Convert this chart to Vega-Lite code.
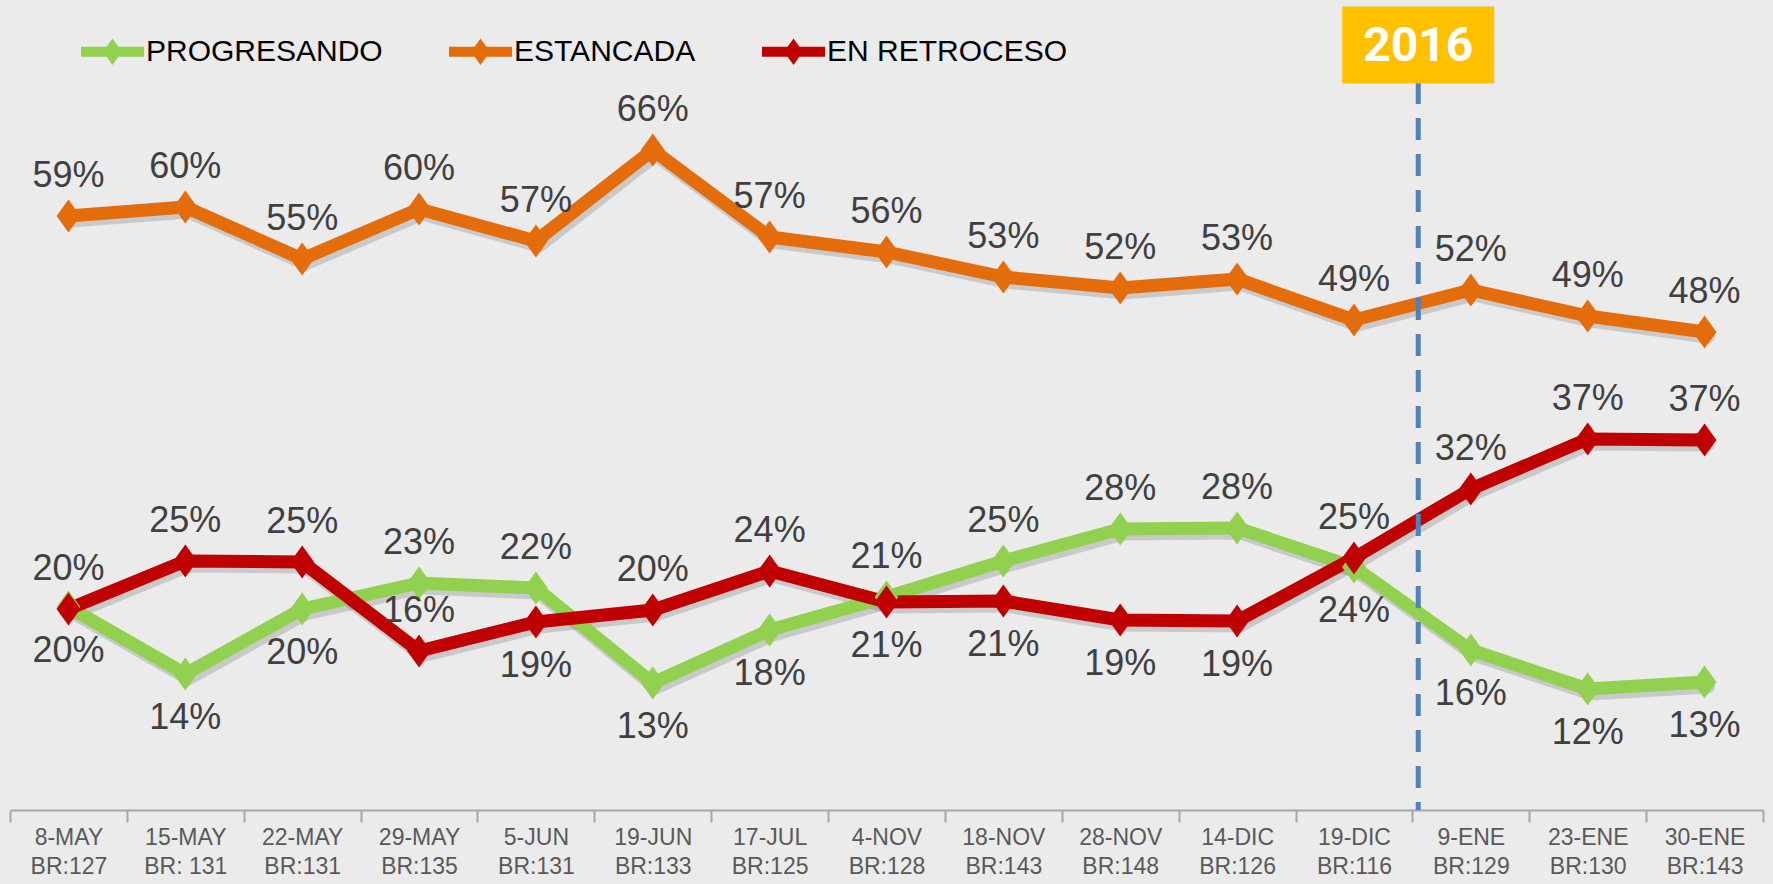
{
  "$schema": "https://vega.github.io/schema/vega-lite/v6.json",
  "width": 1753,
  "height": 810,
  "autosize": {"type": "none"},
  "padding": {"left": 10, "top": 0, "right": 10, "bottom": 74},
  "background": "#ebebeb",
  "config": {
    "view": {"stroke": null},
    "font": "Liberation Sans",
    "legend": {
      "title": null,
      "orient": "none",
      "legendX": 71,
      "legendY": 20,
      "direction": "horizontal",
      "symbolType": "M-1,-0.16H1V0.16H-1Z M0,-0.42L0.3,0L0,0.42L-0.3,0Z",
      "symbolSize": 3969,
      "symbolStrokeWidth": 0,
      "symbolOpacity": 1,
      "labelFont": "Liberation Sans",
      "labelFontSize": 30,
      "labelColor": "#000000",
      "labelOffset": 2,
      "columnPadding": 66,
      "padding": 0,
      "labelLimit": 400
    }
  },
  "data": {
    "values": [
      {"periodo": "8-MAY|BR:127", "serie": "PROGRESANDO", "valor": 0.203},
      {"periodo": "15-MAY|BR: 131", "serie": "PROGRESANDO", "valor": 0.136},
      {"periodo": "22-MAY|BR:131", "serie": "PROGRESANDO", "valor": 0.201},
      {"periodo": "29-MAY|BR:135", "serie": "PROGRESANDO", "valor": 0.227},
      {"periodo": "5-JUN|BR:131", "serie": "PROGRESANDO", "valor": 0.222},
      {"periodo": "19-JUN|BR:133", "serie": "PROGRESANDO", "valor": 0.127},
      {"periodo": "17-JUL|BR:125", "serie": "PROGRESANDO", "valor": 0.180},
      {"periodo": "4-NOV|BR:128", "serie": "PROGRESANDO", "valor": 0.213},
      {"periodo": "18-NOV|BR:143", "serie": "PROGRESANDO", "valor": 0.249},
      {"periodo": "28-NOV|BR:148", "serie": "PROGRESANDO", "valor": 0.281},
      {"periodo": "14-DIC|BR:126", "serie": "PROGRESANDO", "valor": 0.282},
      {"periodo": "19-DIC|BR:116", "serie": "PROGRESANDO", "valor": 0.243},
      {"periodo": "9-ENE|BR:129", "serie": "PROGRESANDO", "valor": 0.160},
      {"periodo": "23-ENE|BR:130", "serie": "PROGRESANDO", "valor": 0.121},
      {"periodo": "30-ENE|BR:143", "serie": "PROGRESANDO", "valor": 0.128},
      {"periodo": "8-MAY|BR:127", "serie": "ESTANCADA", "valor": 0.594},
      {"periodo": "15-MAY|BR: 131", "serie": "ESTANCADA", "valor": 0.603},
      {"periodo": "22-MAY|BR:131", "serie": "ESTANCADA", "valor": 0.551},
      {"periodo": "29-MAY|BR:135", "serie": "ESTANCADA", "valor": 0.601},
      {"periodo": "5-JUN|BR:131", "serie": "ESTANCADA", "valor": 0.569},
      {"periodo": "19-JUN|BR:133", "serie": "ESTANCADA", "valor": 0.660},
      {"periodo": "17-JUL|BR:125", "serie": "ESTANCADA", "valor": 0.573},
      {"periodo": "4-NOV|BR:128", "serie": "ESTANCADA", "valor": 0.558},
      {"periodo": "18-NOV|BR:143", "serie": "ESTANCADA", "valor": 0.533},
      {"periodo": "28-NOV|BR:148", "serie": "ESTANCADA", "valor": 0.522},
      {"periodo": "14-DIC|BR:126", "serie": "ESTANCADA", "valor": 0.531},
      {"periodo": "19-DIC|BR:116", "serie": "ESTANCADA", "valor": 0.490},
      {"periodo": "9-ENE|BR:129", "serie": "ESTANCADA", "valor": 0.520},
      {"periodo": "23-ENE|BR:130", "serie": "ESTANCADA", "valor": 0.494},
      {"periodo": "30-ENE|BR:143", "serie": "ESTANCADA", "valor": 0.478},
      {"periodo": "8-MAY|BR:127", "serie": "EN RETROCESO", "valor": 0.201},
      {"periodo": "15-MAY|BR: 131", "serie": "EN RETROCESO", "valor": 0.249},
      {"periodo": "22-MAY|BR:131", "serie": "EN RETROCESO", "valor": 0.248},
      {"periodo": "29-MAY|BR:135", "serie": "EN RETROCESO", "valor": 0.159},
      {"periodo": "5-JUN|BR:131", "serie": "EN RETROCESO", "valor": 0.188},
      {"periodo": "19-JUN|BR:133", "serie": "EN RETROCESO", "valor": 0.200},
      {"periodo": "17-JUL|BR:125", "serie": "EN RETROCESO", "valor": 0.239},
      {"periodo": "4-NOV|BR:128", "serie": "EN RETROCESO", "valor": 0.208},
      {"periodo": "18-NOV|BR:143", "serie": "EN RETROCESO", "valor": 0.209},
      {"periodo": "28-NOV|BR:148", "serie": "EN RETROCESO", "valor": 0.190},
      {"periodo": "14-DIC|BR:126", "serie": "EN RETROCESO", "valor": 0.189},
      {"periodo": "19-DIC|BR:116", "serie": "EN RETROCESO", "valor": 0.252},
      {"periodo": "9-ENE|BR:129", "serie": "EN RETROCESO", "valor": 0.321},
      {"periodo": "23-ENE|BR:130", "serie": "EN RETROCESO", "valor": 0.371},
      {"periodo": "30-ENE|BR:143", "serie": "EN RETROCESO", "valor": 0.370}
    ]
  },
  "encoding": {
    "x": {
      "field": "periodo",
      "type": "nominal",
      "scale": {
        "type": "band",
        "domain": ["8-MAY|BR:127", "15-MAY|BR: 131", "22-MAY|BR:131", "29-MAY|BR:135", "5-JUN|BR:131", "19-JUN|BR:133", "17-JUL|BR:125", "4-NOV|BR:128", "18-NOV|BR:143", "28-NOV|BR:148", "14-DIC|BR:126", "19-DIC|BR:116", "9-ENE|BR:129", "23-ENE|BR:130", "30-ENE|BR:143"],
        "paddingInner": 0,
        "paddingOuter": 0
      },
      "axis": {
        "title": null,
        "labelExpr": "split(datum.label, '|')",
        "labelAngle": 0,
        "labelFont": "Liberation Sans",
        "labelFontSize": 23,
        "labelColor": "#595959",
        "labelLineHeight": 29,
        "labelBaseline": "top",
        "labelPadding": 4,
        "tickSize": 12,
        "tickColor": "#a6a6a6",
        "tickWidth": 2,
        "domainColor": "#a6a6a6",
        "domainWidth": 2,
        "tickBand": "extent",
        "labelOverlap": false,
        "labelFlush": false,
        "grid": false
      }
    },
    "y": {
      "field": "valor",
      "type": "quantitative",
      "scale": {"domain": [0, 0.81], "nice": false, "zero": true},
      "axis": null
    }
  },
  "layer": [
    {
      "mark": {"type": "line", "color": "#000000", "opacity": 0.14, "strokeWidth": 15, "xOffset": 3, "yOffset": 4, "strokeJoin": "round", "strokeCap": "round"},
      "encoding": {"detail": {"field": "serie", "type": "nominal"}}
    },
    {
      "mark": {"type": "line", "strokeWidth": 13, "strokeJoin": "round", "strokeCap": "round"},
      "encoding": {
        "stroke": {
          "field": "serie",
          "type": "nominal",
          "scale": {"domain": ["PROGRESANDO", "ESTANCADA", "EN RETROCESO"], "range": ["#92d050", "#e46c0a", "#c00000"]}
        }
      }
    },
    {
      "mark": {"type": "point", "filled": true, "shape": "M0,-1L0.72,0L0,1L-0.72,0Z", "size": 1089, "opacity": 1, "strokeWidth": 0},
      "encoding": {
        "fill": {
          "field": "serie",
          "type": "nominal",
          "scale": {"domain": ["PROGRESANDO", "ESTANCADA", "EN RETROCESO"], "range": ["#92d050", "#e46c0a", "#c00000"]}
        }
      }
    },
    {
      "transform": [
        {"filter": "datum.serie == 'ESTANCADA' || (datum.serie == 'PROGRESANDO' && indexof(['29-MAY','5-JUN','4-NOV','18-NOV','28-NOV','14-DIC'], split(datum.periodo,'|')[0]) >= 0) || (datum.serie == 'EN RETROCESO' && indexof(['8-MAY','15-MAY','22-MAY','29-MAY','19-JUN','17-JUL','19-DIC','9-ENE','23-ENE','30-ENE'], split(datum.periodo,'|')[0]) >= 0)"}
      ],
      "mark": {"type": "text", "font": "Liberation Sans", "fontSize": 36, "color": "#404040", "baseline": "middle", "dy": -40},
      "encoding": {"text": {"field": "valor", "type": "quantitative", "format": ".0%"}}
    },
    {
      "transform": [
        {"filter": "!(datum.serie == 'ESTANCADA' || (datum.serie == 'PROGRESANDO' && indexof(['29-MAY','5-JUN','4-NOV','18-NOV','28-NOV','14-DIC'], split(datum.periodo,'|')[0]) >= 0) || (datum.serie == 'EN RETROCESO' && indexof(['8-MAY','15-MAY','22-MAY','29-MAY','19-JUN','17-JUL','19-DIC','9-ENE','23-ENE','30-ENE'], split(datum.periodo,'|')[0]) >= 0))"}
      ],
      "mark": {"type": "text", "font": "Liberation Sans", "fontSize": 36, "color": "#404040", "baseline": "middle", "dy": 44},
      "encoding": {"text": {"field": "valor", "type": "quantitative", "format": ".0%"}}
    },
    {
      "data": {"values": [{"periodo": "9-ENE|BR:129", "valor": 0.765, "texto": "2016"}]},
      "mark": {"type": "rule", "color": "#4f81bd", "strokeWidth": 5, "strokeDash": [22, 14]},
      "encoding": {
        "x": {"field": "periodo", "type": "nominal", "bandPosition": 0.05},
        "y": {"datum": 0.728, "type": "quantitative"},
        "y2": {"datum": 0}
      }
    },
    {
      "data": {"values": [{"periodo": "9-ENE|BR:129", "valor": 0.765, "texto": "2016"}]},
      "mark": {"type": "point", "shape": "M-1,-0.507H1V0.507H-1Z", "size": 23104, "filled": true, "color": "#ffc000", "opacity": 1, "strokeWidth": 0},
      "encoding": {
        "x": {"field": "periodo", "type": "nominal", "bandPosition": 0.05},
        "y": {"field": "valor", "type": "quantitative"}
      }
    },
    {
      "data": {"values": [{"periodo": "9-ENE|BR:129", "valor": 0.765, "texto": "2016"}]},
      "mark": {"type": "text", "font": "Roboto", "fontWeight": "bold", "fontSize": 48, "color": "#ffffff", "baseline": "middle", "align": "center", "dy": 2},
      "encoding": {
        "x": {"field": "periodo", "type": "nominal", "bandPosition": 0.05},
        "y": {"field": "valor", "type": "quantitative"},
        "text": {"field": "texto", "type": "nominal"}
      }
    }
  ]
}
